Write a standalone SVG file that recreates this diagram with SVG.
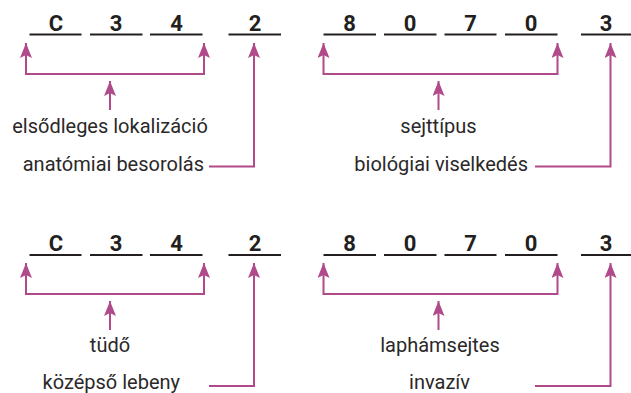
<svg xmlns="http://www.w3.org/2000/svg" width="631" height="393" viewBox="0 0 631 393">
<style>
.d{font-family:Roboto,"Liberation Sans",sans-serif;font-weight:bold;font-size:22px;fill:#231f20;text-anchor:middle}
.t{font-family:Roboto,"Liberation Sans",sans-serif;font-size:20px;fill:#2b2829}
.u{stroke:#231f20;stroke-width:2;fill:none}
.c{stroke:#b04a8a;stroke-width:2;fill:none;marker-end:url(#ah)}
.b{marker-start:url(#ah)}
</style>
<defs>
<marker id="ah" viewBox="0 0 15 12" refX="15" refY="6" markerWidth="15" markerHeight="12" markerUnits="userSpaceOnUse" orient="auto-start-reverse">
<path d="M0,0 L15,6 L0,12 L3,6 z" fill="#b04a8a"/>
</marker>
</defs>
<g id="code1">
<path class="u" d="M29.5,34.5H81.5M90,34.5H142.5M150,34.5H202.5M228.5,34.5H281"/>
<text class="d" x="56" y="30.7">C</text>
<text class="d" x="116" y="30.7">3</text>
<text class="d" x="176.5" y="30.7">4</text>
<text class="d" x="255" y="30.7">2</text>
</g>
<g id="code2">
<path class="u" d="M323.5,34.5H376M384,34.5H436.5M444.5,34.5H496.5M505,34.5H557.5M581,34.5H631"/>
<text class="d" x="349.5" y="30.7">8</text>
<text class="d" x="410" y="30.7">0</text>
<text class="d" x="470.5" y="30.7">7</text>
<text class="d" x="531" y="30.7">0</text>
<text class="d" x="606" y="30.7">3</text>
</g>
<g id="code3">
<path class="u" d="M29.5,255H81.5M90,255H142.5M150,255H202.5M228.5,255H281"/>
<text class="d" x="56" y="251">C</text>
<text class="d" x="116" y="251">3</text>
<text class="d" x="176.5" y="251">4</text>
<text class="d" x="255" y="251">2</text>
</g>
<g id="code4">
<path class="u" d="M323.5,255H376M384,255H436.5M444.5,255H496.5M505,255H557.5M581,255H631"/>
<text class="d" x="349.5" y="251">8</text>
<text class="d" x="410" y="251">0</text>
<text class="d" x="470.5" y="251">7</text>
<text class="d" x="531" y="251">0</text>
<text class="d" x="606" y="251">3</text>
</g>
<g id="label-elsodleges"><text class="t" x="110" y="133" text-anchor="middle">elsődleges lokalizáció</text></g>
<g id="label-anatomiai"><text class="t" x="204" y="171" text-anchor="end">anatómiai besorolás</text></g>
<g id="label-sejttipus"><text class="t" x="438.5" y="133" text-anchor="middle">sejttípus</text></g>
<g id="label-biologiai"><text class="t" x="528" y="171" text-anchor="end">biológiai viselkedés</text></g>
<g id="label-tudo"><text class="t" x="110" y="352" text-anchor="middle">tüdő</text></g>
<g id="label-kozepso"><text class="t" x="180" y="389" text-anchor="end">középső lebeny</text></g>
<g id="label-laphamsejtes"><text class="t" x="440" y="352" text-anchor="middle">laphámsejtes</text></g>
<g id="label-invaziv"><text class="t" x="470" y="389" text-anchor="end">invazív</text></g>
<g id="connectors">
<path class="c b" d="M26,43V74H204V43"/>
<path class="c" d="M110,110V81"/>
<path class="c" d="M209,166.5H254V43"/>
<path class="c b" d="M323.5,43V74H557.5V43"/>
<path class="c" d="M438.5,110V81"/>
<path class="c" d="M535,166.5H610.5V43"/>
<path class="c b" d="M26,263V294H204V263"/>
<path class="c" d="M110,330V301"/>
<path class="c" d="M209,386H254V263"/>
<path class="c b" d="M323.5,263V294H557.5V263"/>
<path class="c" d="M438.5,330V301"/>
<path class="c" d="M535,386H610.5V263"/>
</g>
</svg>
